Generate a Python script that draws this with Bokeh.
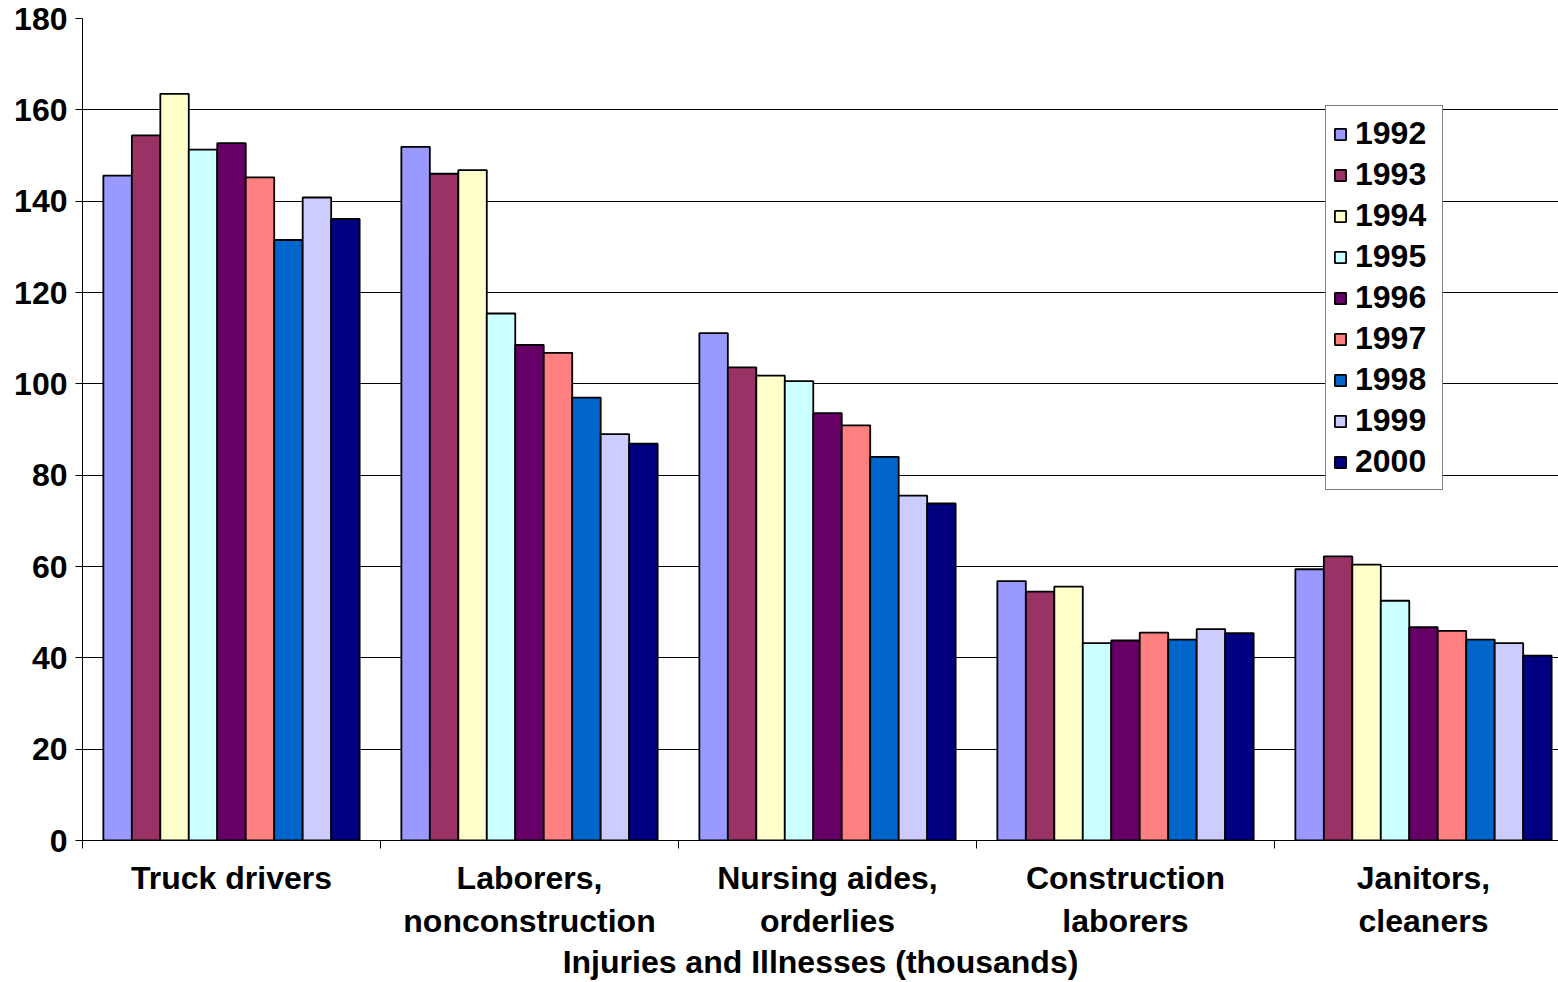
from bokeh.plotting import figure
from bokeh.models import FixedTicker, Range1d, Legend, LegendItem, ColumnDataSource
from bokeh.transform import dodge
from bokeh.embed import file_html
from bokeh.resources import INLINE

categories = ["Truck drivers", "Laborers,\nnonconstruction", "Nursing aides,\norderlies",
              "Construction\nlaborers", "Janitors,\ncleaners"]
years = ["1992", "1993", "1994", "1995", "1996", "1997", "1998", "1999", "2000"]
v1992 = [145.6, 151.9, 111.1, 56.8, 59.4]
v1993 = [154.4, 146.0, 103.6, 54.5, 62.2]
v1994 = [163.5, 146.8, 101.8, 55.6, 60.4]
v1995 = [151.3, 115.4, 100.6, 43.2, 52.5]
v1996 = [152.7, 108.5, 93.6, 43.8, 46.7]
v1997 = [145.2, 106.8, 90.9, 45.5, 45.9]
v1998 = [131.5, 97.0, 84.0, 44.0, 44.0]
v1999 = [140.8, 89.0, 75.5, 46.3, 43.2]
v2000 = [136.1, 86.9, 73.8, 45.4, 40.5]
series = [v1992, v1993, v1994, v1995, v1996, v1997, v1998, v1999, v2000]
colors = ["#9999FF", "#993366", "#FFFFCC", "#CCFFFF", "#660066",
          "#FF8080", "#0066CC", "#CCCCFF", "#000080"]
y_ticks = [0, 20, 40, 60, 80, 100, 120, 140, 160, 180]
x_title = "Injuries and Illnesses (thousands)"

FONT = "Liberation Sans"
FS = "32px"

n_cat = len(categories)
centers = [i + 0.5 for i in range(n_cat)]
data = {"xc": centers}
for y, vals in zip(years, series):
    data["y" + y] = vals
source = ColumnDataSource(data)

p = figure(width=1558, height=982, output_backend="svg", toolbar_location=None,
           x_range=Range1d(0, 4.953), y_range=Range1d(0, 180),
           min_border_left=82, min_border_right=0, min_border_top=18, min_border_bottom=142,
           background_fill_color="white", border_fill_color="white")
p.outline_line_color = None

group_w = 0.86
bw = group_w / len(years)
renderers = []
for j, (y, c) in enumerate(zip(years, colors)):
    off = -group_w / 2 + (j + 0.5) * bw
    r = p.vbar(x=dodge("xc", off, range=p.x_range), top="y" + y, width=bw, bottom=0,
               source=source, fill_color=c, line_color="black", line_width=1.8)
    renderers.append(r)

# y axis
p.yaxis.ticker = FixedTicker(ticks=y_ticks)
p.yaxis.major_label_text_font = FONT
p.yaxis.major_label_text_font_style = "bold"
p.yaxis.major_label_text_font_size = FS
p.yaxis.major_label_text_color = "black"
p.yaxis.major_tick_out = 7
p.yaxis.major_tick_in = 0
p.yaxis.minor_tick_line_color = None
p.yaxis.axis_line_color = "black"
p.yaxis.major_tick_line_color = "black"
p.yaxis.major_label_standoff = 8

# x axis
p.xaxis.ticker = FixedTicker(ticks=centers, minor_ticks=list(range(n_cat + 1)))
p.xaxis.major_label_overrides = {c: lab for c, lab in zip(centers, categories)}
p.xaxis.major_label_text_font = FONT
p.xaxis.major_label_text_font_style = "bold"
p.xaxis.major_label_text_font_size = FS
p.xaxis.major_label_text_color = "black"
p.xaxis.major_tick_out = 0
p.xaxis.major_tick_in = 0
p.xaxis.major_tick_line_color = None
p.xaxis.minor_tick_out = 8
p.xaxis.minor_tick_in = 0
p.xaxis.minor_tick_line_color = "black"
p.xaxis.axis_line_color = "black"
p.xaxis.major_label_standoff = 11
p.xaxis.axis_label = x_title
p.xaxis.axis_label_text_font = FONT
p.xaxis.axis_label_text_font_style = "bold"
p.xaxis.axis_label_text_font_size = FS
p.xaxis.axis_label_text_color = "black"
p.xaxis.axis_label_standoff = 2

p.xgrid.visible = False
p.ygrid.grid_line_color = "black"
p.ygrid.grid_line_width = 1

legend = Legend(items=[LegendItem(label=y, renderers=[r]) for y, r in zip(years, renderers)],
                location=(1243, 350))
legend.label_text_font = FONT
legend.label_text_font_style = "bold"
legend.label_text_font_size = FS
legend.label_text_color = "black"
legend.glyph_width = 14
legend.glyph_height = 14
legend.label_height = 41
legend.label_width = 80
legend.label_standoff = 8
legend.spacing = 0
legend.padding = 7
legend.margin = 0
legend.border_line_color = "black"
legend.border_line_width = 1
legend.background_fill_color = "white"
legend.background_fill_alpha = 1
p.add_layout(legend, "center")

open("out.html", "w").write(file_html(p, INLINE))
